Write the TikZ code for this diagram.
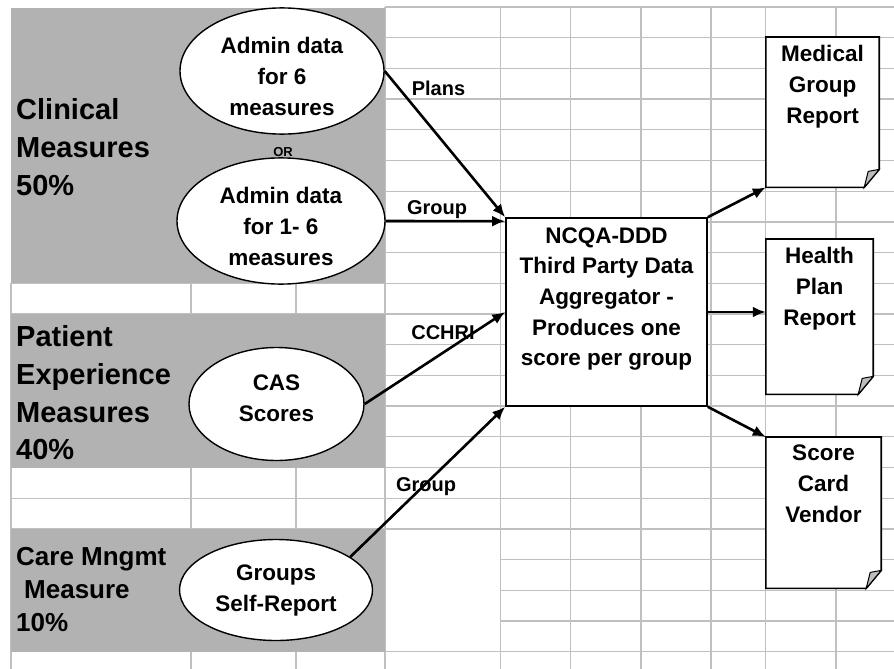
\documentclass[tikz,border=0pt]{standalone}
\usepackage{fontspec}
\setmainfont{Liberation Sans}
\usetikzlibrary{positioning, calc, shapes.geometric, arrows.meta}
\definecolor{ink}{HTML}{000000}
\definecolor{cellfill}{HTML}{B2B2B2}
\definecolor{rulec}{HTML}{C0C0C0}
\definecolor{foldc}{HTML}{BDBDBD}
\newcommand{\BigF}{\fontsize{29}{37.7}\selectfont\bfseries}
\newcommand{\CareF}{\fontsize{26}{33}\selectfont\bfseries}
\newcommand{\MidF}{\fontsize{22.5}{31}\selectfont\bfseries}
\newcommand{\BoxF}{\fontsize{22.5}{30.7}\selectfont\bfseries}
\newcommand{\LabF}{\fontsize{20}{24}\selectfont\bfseries}
\newcommand{\TinyF}{\fontsize{13}{15}\selectfont\bfseries}
\newcommand{\lift}{\rule{0pt}{27pt}}
\newcommand{\sink}{\rule[-12pt]{0pt}{12pt}}
\tikzset{
  cell/.style={rulec, line width=1.3pt},
  title/.style={anchor=west, align=left, inner sep=0pt, text=ink},
  src/.style={ellipse, draw=ink, fill=white, line width=1.4pt, font=\MidF, align=center, inner sep=0pt},
  lab/.style={font=\LabF, text=ink, inner sep=0pt},
  flow/.style={ink, line width=2.6pt, -{Latex[length=13pt,width=11pt]}},
  aggbox/.style={draw=ink, fill=white, line width=1.6pt, inner sep=0pt},
  docbox/.style={draw=none, inner sep=0pt},
  docline/.style={draw=ink, fill=white, line width=1.6pt},
  fold/.style={draw=ink, fill=foldc, line width=1pt},
}
\newcommand{\report}[6]{%
  \node[docbox, minimum width=#4pt, minimum height=#5pt, anchor=north] (#1) at (#2,#3) {};
  \draw[docline] (#1.north west) -- (#1.north east) -- ($(#1.south east)+(0,-18)$)
    -- ($(#1.south east)+(-15,0)$) -- (#1.south west) -- cycle;
  \draw[fold] ($(#1.south east)+(0,-18)$) -- ($(#1.south east)+(-11,-16)$) -- ($(#1.south east)+(-15,0)$) -- cycle;
  \node[font=\MidF, align=center, inner sep=0pt, anchor=north] (#1-t) at ($(#1.north)+(0,8)$) {#6};
}

\begin{document}
\begin{tikzpicture}[x=1pt,y=-1pt]
\useasboundingbox (0,0) rectangle (894,669);
\fill[white] (0,0) rectangle (894,669);

\draw[cell] (385,7) -- (894,7);
\foreach \k in {1,...,17}
  \draw[cell] (11,{7+30.7*\k}) -- (894,{7+30.7*\k});
\foreach \k in {18,19,20}
  \draw[cell] (500.7,{7+30.7*\k}) -- (894,{7+30.7*\k});
\draw[cell] (11,651.7) -- (894,651.7);
\foreach \c in {385,500.7,570.7,641,711,765.7,836}
  \draw[cell] (\c,7) -- (\c,669);
\foreach \c in {11,191,296}
  \draw[cell] (\c,283.3) -- (\c,669);

\fill[cellfill] (11,8) rectangle (385,283.3);
\fill[cellfill] (11,314) rectangle (385,467.5);
\fill[cellfill] (11,528.9) rectangle (385,651.7);

\node[title, font=\BigF] (clin) at (16,147) {Clinical\\Measures\\50\%};
\node[title, font=\BigF] (pat) at (16,393) {Patient\\Experience\\Measures\\40\%};
\node[title, font=\CareF] (care) at (16,590) {Care Mngmt\\\hspace*{8pt}Measure\\10\%};

\node[src, minimum width=204pt, minimum height=124pt] (adm6) at (282,71) {\lift Admin data\\for 6\\measures};
\node[font=\TinyF, text=ink, inner sep=0pt] (orr) at (283,152) {OR};
\node[src, minimum width=208pt, minimum height=118pt] (adm16) at (281,221) {\lift Admin data\\for 1- 6\\measures};
\node[src, minimum width=175pt, minimum height=113pt] (cas) at (276.5,404) {CAS\\Scores\sink};
\node[src, minimum width=193pt, minimum height=101pt] (self) at (276,590) {Groups\\Self-Report};

\node[lab] (plans) at (438.5,88) {Plans};
\node[lab] (grpA) at (437,210) {Group};
\node[lab] (cchri) at (443,333) {CCHRI};
\node[lab] (grpB) at (426,487) {Group};

\node[aggbox, minimum width=201pt, minimum height=188pt] (agg) at (606.5,312) {};
\node[font=\BoxF, align=center, inner sep=0pt, anchor=north] (agg-t) at ($(agg.north)+(0,10)$)
  {NCQA-DDD\\Third Party Data\\Aggregator -\\Produces one\\score per group};

\report{med}{822.5}{37}{113}{150}{Medical\\Group\\Report}
\report{hp}{819.5}{239}{107}{155}{Health\\Plan\\Report}
\report{sc}{823.5}{437}{115}{151}{Score\\Card\\Vendor}

\draw[flow] (adm6.east) -- (agg.north west);
\draw[flow] (adm16.east) -- ($(agg.north west)+(0,4)$);
\draw[flow] (cas.east) -- (agg.west);
\draw[flow] (self.24) -- (agg.south west);
\draw[flow] (agg.north east) -- (med.south west);
\draw[flow] (agg.east) -- (agg.east -| hp.west);
\draw[flow] (agg.south east) -- (sc.north west);
\end{tikzpicture}
\end{document}
